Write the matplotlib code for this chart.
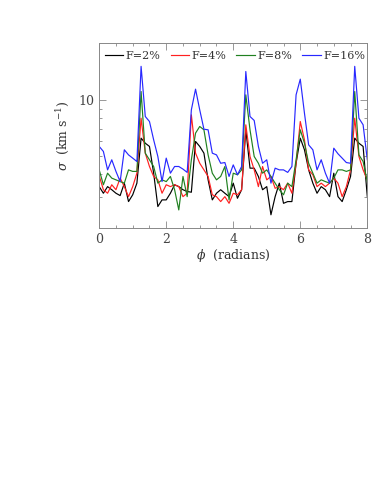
import numpy as np
import matplotlib
matplotlib.use("Agg")
import matplotlib.pyplot as plt
from matplotlib.ticker import FixedLocator, NullFormatter

# phase grid (radians)
phi = np.arange(65) * 0.125

sigma_f2 = [3.43, 3.16, 3.43, 3.30, 3.16, 3.07, 3.58, 2.85, 3.10, 3.58,
            6.25, 5.87, 5.64, 4.05, 2.68, 2.91, 2.91, 3.16, 3.51, 3.43,
            3.30, 3.23, 3.20, 6.00, 5.64, 5.19, 3.73, 2.91, 3.16, 3.30,
            3.16, 3.03, 3.58, 2.97, 3.30, 6.93, 4.31, 4.31, 3.89, 3.30,
            3.43, 2.42, 3.03, 3.58, 2.79, 2.85, 2.85, 4.58, 6.25, 5.41,
            4.22, 3.58, 3.16, 3.43, 3.30, 3.03, 4.05, 3.03, 2.85, 3.30,
            3.89, 6.25, 5.87, 5.64, 3.03]

sigma_f4 = [3.92, 3.30, 3.16, 3.51, 3.30, 3.81, 3.43, 3.03, 3.43, 4.05,
            8.00, 5.19, 4.40, 3.89, 3.73, 3.16, 3.51, 3.43, 3.51, 3.43,
            3.03, 3.16, 8.34, 5.19, 4.58, 4.22, 3.89, 3.10, 3.03, 2.85,
            3.03, 2.79, 3.16, 3.10, 3.30, 7.37, 4.98, 4.22, 3.43, 4.40,
            3.73, 3.89, 3.36, 3.43, 3.30, 3.58, 3.16, 4.58, 7.68, 6.12,
            4.22, 3.97, 3.43, 3.58, 3.43, 3.58, 3.81, 3.58, 3.03, 3.43,
            4.22, 8.00, 4.98, 4.22, 3.73]

sigma_f8 = [4.22, 3.51, 4.05, 3.81, 3.73, 3.65, 3.58, 4.22, 4.14, 4.14,
            11.13, 5.19, 4.78, 4.40, 3.58, 3.73, 3.65, 3.89, 3.30, 2.57,
            3.89, 3.03, 4.78, 6.65, 7.22, 6.93, 5.08, 4.05, 3.73, 3.89,
            4.40, 2.91, 4.05, 3.97, 4.22, 10.68, 6.93, 4.98, 4.58, 4.05,
            4.22, 3.89, 3.58, 3.30, 3.10, 3.58, 3.43, 4.78, 6.93, 5.87,
            4.58, 4.05, 3.58, 3.73, 3.65, 3.58, 3.81, 4.22, 4.22, 4.14,
            4.22, 11.13, 5.08, 4.68, 3.65]

sigma_f16 = [5.64, 5.30, 4.22, 4.78, 4.14, 3.65, 5.41, 5.08, 4.88, 4.68,
             15.2, 8.17, 7.68, 6.12, 4.98, 3.65, 4.88, 4.05, 4.40, 4.40,
             4.26, 4.09, 8.87, 11.46, 8.87, 6.98, 6.93, 5.19, 5.08, 4.58,
             4.62, 3.89, 4.49, 3.97, 4.40, 14.26, 8.17, 7.78, 5.64, 4.58,
             4.78, 3.58, 4.31, 4.22, 4.22, 4.09, 4.40, 10.68, 12.97, 8.51,
             5.75, 5.41, 4.22, 4.78, 4.05, 3.58, 5.52, 5.15, 4.88, 4.62,
             4.58, 15.2, 8.00, 7.37, 4.78]

labels = ["F=2%", "F=4%", "F=8%", "F=16%"]
colors = ["black", "#ff2020", "#208020", "#2828ff"]

plt.rcParams["font.family"] = "DejaVu Serif"
plt.rcParams["mathtext.fontset"] = "dejavuserif"

fig = plt.figure(figsize=(3.83, 4.95), dpi=100)
ax = fig.add_axes([0.259, 0.539, 0.700, 0.375])

for s, lab, c in zip([sigma_f2, sigma_f4, sigma_f8, sigma_f16], labels, colors):
    ax.plot(phi, s, color=c, lw=0.85, label=lab)

ax.set_yscale("log")
ax.set_xlim(0, 8)
ax.set_ylim(2.05, 20.4)
ax.set_xticks([0, 2, 4, 6, 8])
ax.xaxis.set_minor_locator(FixedLocator(np.arange(0, 8.01, 0.5)))
ax.yaxis.set_major_locator(FixedLocator([10]))
ax.yaxis.set_minor_locator(FixedLocator([3, 4, 5, 6, 7, 8, 9]))
ax.yaxis.set_minor_formatter(NullFormatter())
ax.set_yticklabels(["10"])

ax.tick_params(which="both", direction="in", top=True, right=True,
               color="#888888", labelcolor="#444444", labelsize=9, width=0.6)
ax.tick_params(which="major", length=5)
ax.tick_params(which="minor", length=2.5)
for sp in ax.spines.values():
    sp.set_color("#888888")
    sp.set_linewidth(0.7)

ax.set_xlabel(r"$\phi$  (radians)", fontsize=9, color="#333333", labelpad=1)
ax.set_ylabel(r"$\sigma$  (km s$^{-1}$)", fontsize=9, color="#333333", labelpad=5)

ax.legend(loc="upper left", bbox_to_anchor=(-0.005, 0.99), ncol=4, frameon=False,
          fontsize=8, handlelength=1.7, handletextpad=0.2, columnspacing=0.9,
          borderaxespad=0.2, labelcolor="#333333")

fig.savefig("out.png", dpi=100)
